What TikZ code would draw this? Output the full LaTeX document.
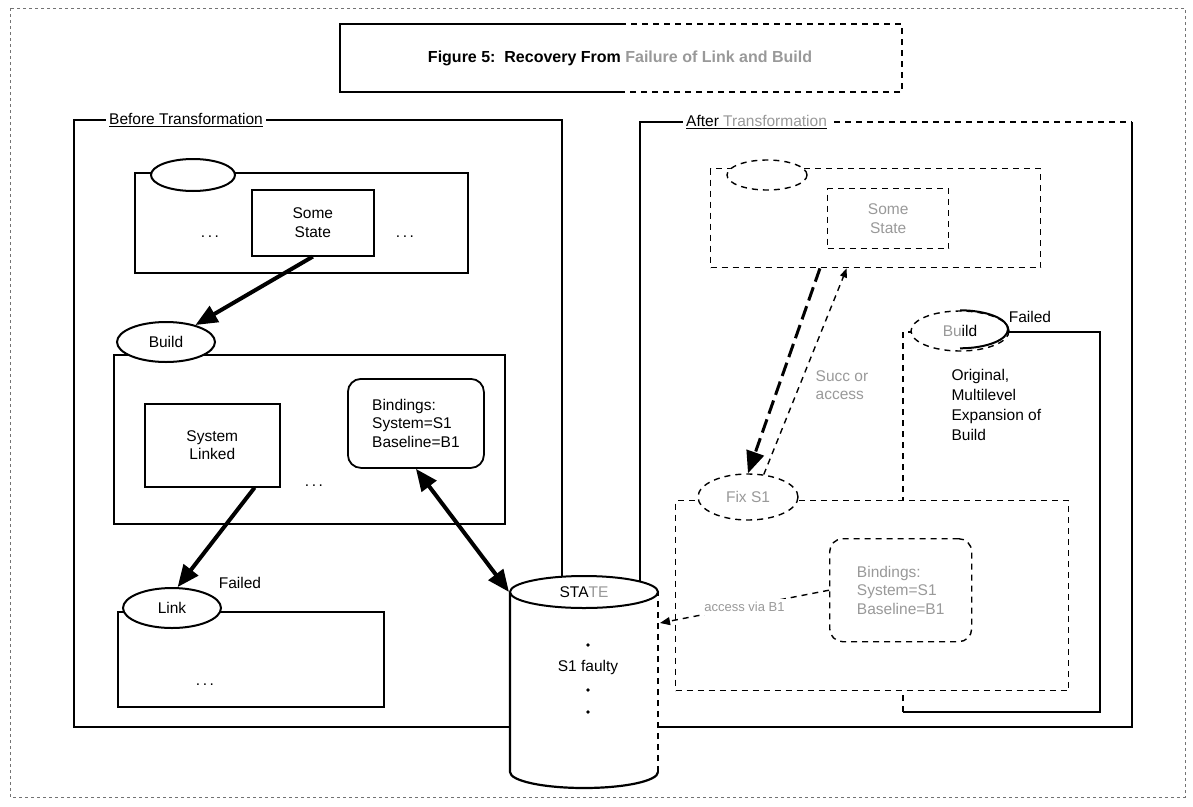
\documentclass[tikz,border=0pt]{standalone}
\usepackage{fontspec}
\setmainfont{Liberation Sans}
\usetikzlibrary{shapes.geometric,arrows.meta}

\begin{document}
\begin{tikzpicture}[x=1pt, y=-1pt, font=\fontsize{15.5}{18.5}\selectfont,
  panel/.style={draw, line width=2.6pt},
  proc/.style={draw, line width=2.2pt, anchor=north west, inner sep=0pt},
  stbox/.style={draw, line width=1.6pt, anchor=north west, align=center},
  bindbox/.style={draw, line width=1.8pt, rounded corners=13pt, anchor=north west, align=left},
  tag/.style={ellipse, draw, fill=white, line width=2pt, minimum width=98pt, minimum height=40pt, inner sep=0pt},
  bigarrow/.style={line width=4pt, -{Triangle[length=22pt, width=18pt]}},
  faded/.style={dash pattern=on 6pt off 5pt, line width=1.4pt},
  dim/.style={text=black!40},
]
\useasboundingbox (0,0) rectangle (1193,806);

% page frame and title
\draw[black!55, dashed, line width=0.8pt] (10,8) rectangle (1185,797);
\draw[line width=1.6pt] (620,24) -| (340,92) -- (620,92);
\draw[faded] (620,24) -| (902,92) -- (620,92);
\node[font=\bfseries\fontsize{16}{18}\selectfont] (title) at (620,58)
  {Figure 5:\ \ Recovery From \textcolor{black!40}{Failure of Link and Build}};

% ---------------- before ----------------
\draw[panel] (74,120) rectangle (562,727);
\node[fill=white, anchor=west, inner xsep=3pt] (beforelbl) at (106,120) {\underline{Before Transformation}};

% top process with some state
\node[proc, minimum width=333pt, minimum height=100pt] (topproc) at (134,172) {};
\node[tag, minimum width=84pt, minimum height=32pt] (topname) at (193,175) {};
\node[stbox, minimum width=122pt, minimum height=66pt] (somestate) at (251,189) {Some\\State};
\node (dotsA) at (210,237) {.\,.\,.};
\node (dotsB) at (405,237) {.\,.\,.};

% build process
\node[proc, minimum width=391pt, minimum height=169pt] (buildproc) at (113,354) {};
\node[tag] (build) at (166,342) {Build};
\node[stbox, minimum width=135pt, minimum height=83pt] (syslinked) at (144,403) {System\\Linked};
\node[bindbox, minimum width=136pt, minimum height=89pt] (bindings) at (347,378)
  {Bindings:\\System=S1\\Baseline=B1};
\node (dotsC) at (314,486) {.\,.\,.};

% link process
\node[proc, minimum width=266pt, minimum height=95pt] (linkproc) at (117,611) {};
\node[tag] (link) at (172,608) {Link};
\node (linkfail) at (240,583) {Failed};
\node (dotsD) at (205,685) {.\,.\,.};

% ---------------- after ----------------
\draw[panel] (680,122) -- (640,122) -- (640,727) -- (1132,727) -- (1132,122);
\draw[faded] (680,122) -- (1132,122);
\node[fill=white, anchor=west, inner xsep=3pt] (afterlbl) at (683,122)
  {\underline{After \textcolor{black!40}{Transformation}}};

% copy of the top process
\node[proc, faded, minimum width=330pt, minimum height=99pt] (topproc2) at (710,168) {};
\node[tag, faded, minimum width=80pt, minimum height=30pt] (topname2) at (767,175) {};
\node[stbox, faded, dim, minimum width=121pt, minimum height=60pt] (somestate2) at (827,188) {Some\\State};

% build, failed
\draw[line width=2.2pt] (903,712) -- (1100,712) -- (1100,332) -- (960,332);
\draw[faded] (903,712) -- (903,332) -- (960,332);
\node[tag, faded] (build2) at (960,331) {\textcolor{black!40}{Bu}ild};
\draw[line width=2pt] (build2.north) arc[start angle=270, end angle=450, x radius=48, y radius=19];
\node (buildfail) at (1030,317) {Failed};
\node[anchor=north west, align=left, font=\fontsize{15.5}{20}\selectfont] (orig) at (948,366)
  {Original,\\Multilevel\\Expansion of\\Build};

% fix process
\node[proc, faded, fill=white, minimum width=393pt, minimum height=190pt] (fixproc) at (675,500) {};
\node[tag, faded, minimum width=100pt, minimum height=46pt] (fix) at (748,497) {\textcolor{black!40}{Fix S1}};
\node[bindbox, faded, dim, minimum width=142pt, minimum height=103pt] (bindings2) at (829,538)
  {Bindings:\\System=S1\\Baseline=B1};

% ---------------- state store ----------------
\fill[white] (510,592) rectangle (658,772);
\fill[white] (584,772) ellipse[x radius=74, y radius=16];
\draw[line width=2.2pt] (510,592) -- (510,772) arc[start angle=180, end angle=0, x radius=74, y radius=16];
\draw[faded] (658,772) -- (658,592);
\node[ellipse, draw, fill=white, line width=2pt, minimum width=148pt, minimum height=32pt, inner sep=0pt]
  (state) at (584,592) {STA\textcolor{black!40}{TE}};
\coordinate (stateside) at (660,623);
\node (faulty) at (588,667) {S1 faulty};
\foreach \y in {645,690,712}
  \fill (588,\y) circle (1.8);

% connectors
\draw[bigarrow] (somestate.south) -- (build.30);
\draw[bigarrow] (syslinked.-45) -- (link.75);
\draw[bigarrow, {Triangle[length=22pt, width=18pt]}-{Triangle[length=22pt, width=18pt]}] (bindings.south) -- (state.west);

\draw[bigarrow, line width=3pt, dash pattern=on 14pt off 6pt] (topproc2.222) -- (fix.north);
\draw[faded, -{Triangle[length=9pt, width=7pt]}] (fix.55) -- (topproc2.240);
\node[dim, align=left] (succlbl) at (842,385) {Succ or\\access};
\draw[faded, -{Triangle[length=10pt, width=8pt]}] (bindings2.west) -- node[fill=white, dim, font=\fontsize{13}{15}\selectfont] (acclbl) {access via B1} (stateside);
\end{tikzpicture}
\end{document}
